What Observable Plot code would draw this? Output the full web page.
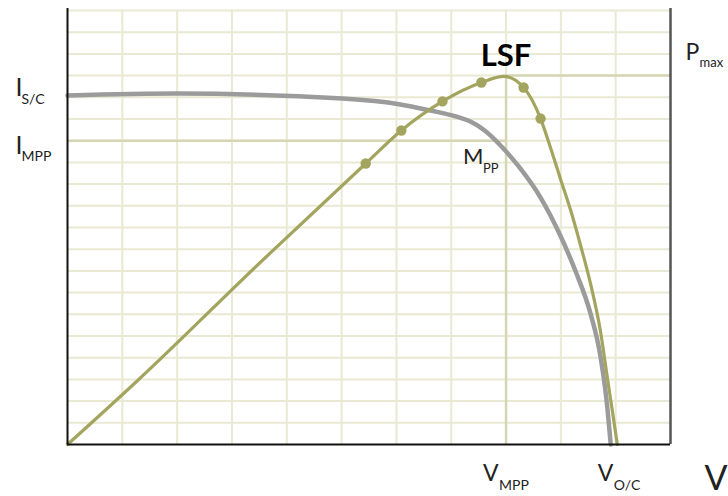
<!DOCTYPE html>
<html><head><meta charset="utf-8">
<script src="https://cdn.jsdelivr.net/npm/d3@7"></script>
<script src="https://cdn.jsdelivr.net/npm/@observablehq/plot@0.6"></script>
<style>html,body{margin:0;padding:0;background:#fff;}</style>
</head><body><div id="chart"></div>
<script>
// grid positions (voltage columns, current rows)
const gridV = [1, 2, 3, 4, 5, 6, 7, 8, 9, 10];
const gridI = [1, 2, 3, 4, 5, 6, 7, 8, 9, 10, 11, 12, 13, 14, 15, 16, 17, 18, 19, 20];

// I-V curve (grey)
const ivV = [0, 2.01, 5.02, 6.07, 6.62, 7.08, 7.35, 7.61, 7.90, 8.26, 8.63, 8.99, 9.27, 9.54, 9.72, 9.83, 9.91];
const ivI = [16.08, 16.17, 15.94, 15.67, 15.39, 15.12, 14.88, 14.47, 13.78, 12.72, 11.38, 9.63, 7.97, 6.04, 4.10, 2.12, 0];

// P-V curve (green)
const pvV = [0, 1.28, 3.52, 5.44, 6.09, 6.84, 7.55, 7.96, 8.32, 8.63, 8.81, 8.99, 9.18, 9.36, 9.54, 9.72, 9.85, 9.96, 10.03];
const pvP = [0, 2.95, 8.4, 12.95, 14.47, 15.81, 16.68, 16.96, 16.45, 15.02, 13.69, 12.26, 10.78, 9.17, 7.42, 5.25, 3.04, 1.20, 0];

// sample dots on the P-V curve
const dotV = [5.44, 6.09, 6.84, 7.55, 8.32, 8.63];
const dotP = [12.95, 14.47, 15.81, 16.68, 16.45, 15.02];

// key values
const V_MPP = 8, I_MPP = 14, P_MAX = 17, V_OC = 10, I_SC = 16.08, V_MAX = 11;

const iv = ivV.map((v, i) => ({v, c: ivI[i]}));
const pv = pvV.map((v, i) => ({v, c: pvP[i]}));
const dots = dotV.map((v, i) => ({v, c: dotP[i]}));

const labels = [
  {x: 0, y: I_SC, t: "I", dx: -52, dy: 0, size: 25},
  {x: 0, y: I_SC, t: "S/C", dx: -46, dy: 8, size: 14},
  {x: 0, y: I_MPP, t: "I", dx: -52, dy: 13, size: 25},
  {x: 0, y: I_MPP, t: "MPP", dx: -46, dy: 20, size: 14},
  {x: V_MAX, y: P_MAX, t: "P", dx: 15, dy: -16, size: 23},
  {x: V_MAX, y: P_MAX, t: "max", dx: 29, dy: -9, size: 13},
  {x: V_MPP, y: P_MAX, t: "LSF", dx: 0, dy: -10, size: 31, w: "bold", a: "middle", fill: "#000"},
  {x: V_MPP, y: I_MPP, t: "M", dx: -43, dy: 23, size: 22},
  {x: V_MPP, y: I_MPP, t: "PP", dx: -23, dy: 32, size: 13},
  {x: V_MPP, y: 0, t: "V", dx: -23, dy: 36, size: 23},
  {x: V_MPP, y: 0, t: "MPP", dx: -7, dy: 45, size: 14},
  {x: V_OC, y: 0, t: "V", dx: -18, dy: 36, size: 23},
  {x: V_OC, y: 0, t: "O/C", dx: -2, dy: 45, size: 14},
  {x: V_MAX, y: 0, t: "V", dx: 34, dy: 45, size: 34}
];

const gridColor = "#e9e9d4";
const hiColor = "#d6d6b4";
const green = "#a3a55f";
const grey = "#9b9b9b";

const chart = Plot.plot({
  width: 728,
  height: 496,
  marginLeft: 67,
  marginRight: 58,
  marginTop: 10,
  marginBottom: 52,
  x: {domain: [0, V_MAX], axis: null},
  y: {domain: [0, 20], axis: null},
  style: {fontFamily: "Lato, 'Open Sans', sans-serif", background: "#fff"},
  marks: [
    Plot.ruleX(gridV, {stroke: gridColor, strokeWidth: 2}),
    Plot.ruleY(gridI, {stroke: gridColor, strokeWidth: 2}),
    Plot.ruleY([I_MPP], {x1: 0, x2: V_MPP, stroke: hiColor, strokeWidth: 2.5}),
    Plot.ruleY([P_MAX], {x1: V_MPP, x2: V_MAX, stroke: hiColor, strokeWidth: 2.5}),
    Plot.ruleX([V_MPP], {y1: 0, y2: P_MAX, stroke: hiColor, strokeWidth: 2.5}),
    Plot.ruleX([V_MAX], {stroke: "#555", strokeWidth: 2.5, insetTop: -2}),
    Plot.line(iv, {x: "v", y: "c", stroke: grey, strokeWidth: 4.5, curve: "monotone-x"}),
    Plot.line(pv, {x: "v", y: "c", stroke: green, strokeWidth: 3.2, curve: "monotone-x"}),
    Plot.dot(dots, {x: "v", y: "c", r: 5.2, fill: green}),
    Plot.ruleX([0], {stroke: "#111", strokeWidth: 2, insetTop: -2}),
    Plot.ruleY([0], {stroke: "#111", strokeWidth: 2}),
    ...labels.map(l => Plot.text([l], {
      x: "x", y: "y", text: "t", dx: l.dx, dy: l.dy,
      fontSize: l.size, fontWeight: l.w || "normal",
      textAnchor: l.a || "start", lineAnchor: "bottom",
      fill: l.fill || "#222"
    }))
  ]
});
document.getElementById("chart").appendChild(chart);
</script>
</body></html>
